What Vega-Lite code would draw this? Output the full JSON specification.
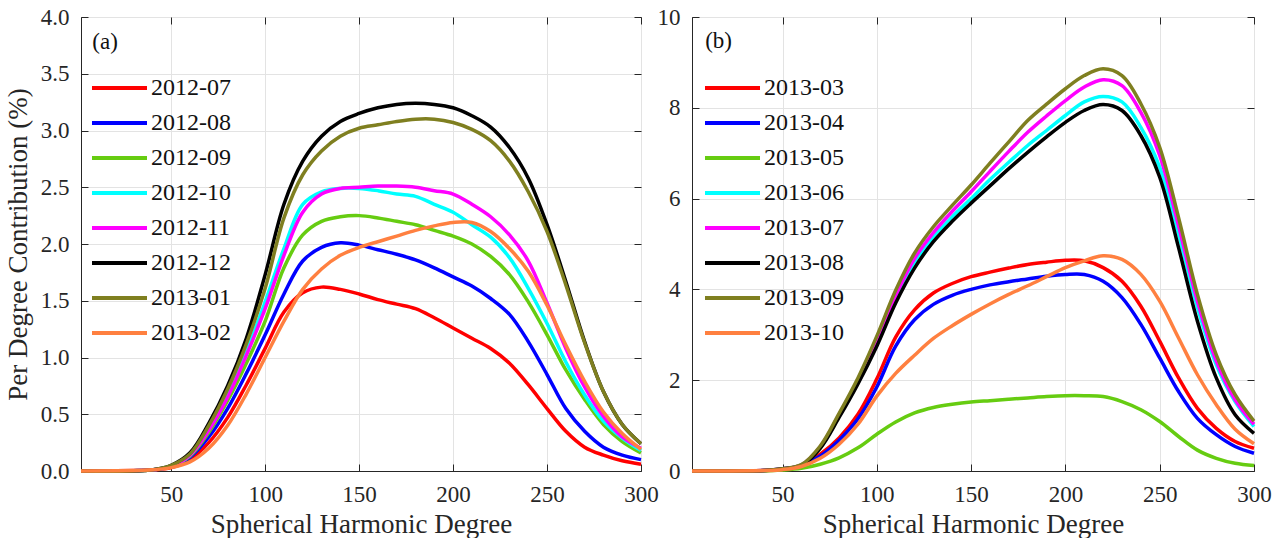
{
"$schema": "https://vega.github.io/schema/vega-lite/v6.json",
"background": "white",
"padding": {"left": 3, "top": 5, "right": 10, "bottom": 0},
"bounds": "flush",
"spacing": 51,
"config": {
  "font": "Liberation Serif",
  "view": {"stroke": "#262626", "strokeWidth": 1},
  "axis": {"labelFont": "Liberation Serif", "labelFontSize": 23, "labelColor": "#262626", "labelFlush": false, "titleFont": "Liberation Serif", "titleFontSize": 27, "titleFontWeight": "normal", "titleColor": "#262626", "titlePadding": 8, "domainColor": "#262626", "tickColor": "#262626", "gridColor": "#e3e3e3", "gridWidth": 1, "tickSize": -7, "labelPadding": 19},
  "axisBottom": {"titlePadding": 5},
  "legend": {"orient": "none", "title": null, "symbolType": "stroke", "symbolSize": 3025, "symbolStrokeWidth": 4, "labelFontSize": 24, "labelFont": "Liberation Serif", "labelColor": "#111111", "clipHeight": 24, "rowPadding": 11, "labelOffset": 2, "padding": 0, "legendY": 59}
},
"datasets": {
"a": [
{"d":2,"s":"2012-07","v":0},{"d":40,"s":"2012-07","v":0.01},{"d":50,"s":"2012-07","v":0.03},{"d":60,"s":"2012-07","v":0.1},{"d":70,"s":"2012-07","v":0.25},{"d":80,"s":"2012-07","v":0.47},{"d":90,"s":"2012-07","v":0.76},{"d":100,"s":"2012-07","v":1.08},{"d":110,"s":"2012-07","v":1.4},{"d":120,"s":"2012-07","v":1.57},{"d":130,"s":"2012-07","v":1.62},{"d":140,"s":"2012-07","v":1.6},{"d":150,"s":"2012-07","v":1.56},{"d":160,"s":"2012-07","v":1.51},{"d":170,"s":"2012-07","v":1.47},{"d":180,"s":"2012-07","v":1.43},{"d":190,"s":"2012-07","v":1.35},{"d":200,"s":"2012-07","v":1.26},{"d":210,"s":"2012-07","v":1.17},{"d":220,"s":"2012-07","v":1.08},{"d":230,"s":"2012-07","v":0.95},{"d":240,"s":"2012-07","v":0.76},{"d":250,"s":"2012-07","v":0.55},{"d":260,"s":"2012-07","v":0.35},{"d":270,"s":"2012-07","v":0.21},{"d":280,"s":"2012-07","v":0.14},{"d":290,"s":"2012-07","v":0.09},{"d":300,"s":"2012-07","v":0.06},
{"d":2,"s":"2012-08","v":0},{"d":40,"s":"2012-08","v":0.01},{"d":50,"s":"2012-08","v":0.04},{"d":60,"s":"2012-08","v":0.12},{"d":70,"s":"2012-08","v":0.3},{"d":80,"s":"2012-08","v":0.55},{"d":90,"s":"2012-08","v":0.86},{"d":100,"s":"2012-08","v":1.2},{"d":110,"s":"2012-08","v":1.56},{"d":120,"s":"2012-08","v":1.85},{"d":130,"s":"2012-08","v":1.97},{"d":140,"s":"2012-08","v":2.01},{"d":150,"s":"2012-08","v":1.99},{"d":160,"s":"2012-08","v":1.95},{"d":170,"s":"2012-08","v":1.91},{"d":180,"s":"2012-08","v":1.86},{"d":190,"s":"2012-08","v":1.79},{"d":200,"s":"2012-08","v":1.71},{"d":210,"s":"2012-08","v":1.63},{"d":220,"s":"2012-08","v":1.52},{"d":230,"s":"2012-08","v":1.38},{"d":240,"s":"2012-08","v":1.14},{"d":250,"s":"2012-08","v":0.85},{"d":260,"s":"2012-08","v":0.55},{"d":270,"s":"2012-08","v":0.35},{"d":280,"s":"2012-08","v":0.21},{"d":290,"s":"2012-08","v":0.14},{"d":300,"s":"2012-08","v":0.1},
{"d":2,"s":"2012-09","v":0},{"d":40,"s":"2012-09","v":0.01},{"d":50,"s":"2012-09","v":0.04},{"d":60,"s":"2012-09","v":0.13},{"d":70,"s":"2012-09","v":0.34},{"d":80,"s":"2012-09","v":0.62},{"d":90,"s":"2012-09","v":0.95},{"d":100,"s":"2012-09","v":1.32},{"d":110,"s":"2012-09","v":1.79},{"d":120,"s":"2012-09","v":2.08},{"d":130,"s":"2012-09","v":2.2},{"d":140,"s":"2012-09","v":2.24},{"d":150,"s":"2012-09","v":2.25},{"d":160,"s":"2012-09","v":2.23},{"d":170,"s":"2012-09","v":2.2},{"d":180,"s":"2012-09","v":2.17},{"d":190,"s":"2012-09","v":2.12},{"d":200,"s":"2012-09","v":2.07},{"d":210,"s":"2012-09","v":2.0},{"d":220,"s":"2012-09","v":1.89},{"d":230,"s":"2012-09","v":1.73},{"d":240,"s":"2012-09","v":1.49},{"d":250,"s":"2012-09","v":1.2},{"d":260,"s":"2012-09","v":0.89},{"d":270,"s":"2012-09","v":0.63},{"d":280,"s":"2012-09","v":0.41},{"d":290,"s":"2012-09","v":0.26},{"d":300,"s":"2012-09","v":0.16},
{"d":2,"s":"2012-10","v":0},{"d":40,"s":"2012-10","v":0.01},{"d":50,"s":"2012-10","v":0.04},{"d":60,"s":"2012-10","v":0.14},{"d":70,"s":"2012-10","v":0.37},{"d":80,"s":"2012-10","v":0.67},{"d":90,"s":"2012-10","v":1.05},{"d":100,"s":"2012-10","v":1.49},{"d":110,"s":"2012-10","v":1.96},{"d":120,"s":"2012-10","v":2.35},{"d":130,"s":"2012-10","v":2.46},{"d":140,"s":"2012-10","v":2.49},{"d":150,"s":"2012-10","v":2.49},{"d":160,"s":"2012-10","v":2.47},{"d":170,"s":"2012-10","v":2.44},{"d":180,"s":"2012-10","v":2.42},{"d":190,"s":"2012-10","v":2.35},{"d":200,"s":"2012-10","v":2.28},{"d":210,"s":"2012-10","v":2.17},{"d":220,"s":"2012-10","v":2.06},{"d":230,"s":"2012-10","v":1.88},{"d":240,"s":"2012-10","v":1.61},{"d":250,"s":"2012-10","v":1.3},{"d":260,"s":"2012-10","v":0.96},{"d":270,"s":"2012-10","v":0.67},{"d":280,"s":"2012-10","v":0.44},{"d":290,"s":"2012-10","v":0.29},{"d":300,"s":"2012-10","v":0.18},
{"d":2,"s":"2012-11","v":0},{"d":40,"s":"2012-11","v":0.01},{"d":50,"s":"2012-11","v":0.04},{"d":60,"s":"2012-11","v":0.14},{"d":70,"s":"2012-11","v":0.36},{"d":80,"s":"2012-11","v":0.65},{"d":90,"s":"2012-11","v":1.02},{"d":100,"s":"2012-11","v":1.43},{"d":110,"s":"2012-11","v":1.9},{"d":120,"s":"2012-11","v":2.28},{"d":130,"s":"2012-11","v":2.44},{"d":140,"s":"2012-11","v":2.49},{"d":150,"s":"2012-11","v":2.5},{"d":160,"s":"2012-11","v":2.51},{"d":170,"s":"2012-11","v":2.51},{"d":180,"s":"2012-11","v":2.5},{"d":190,"s":"2012-11","v":2.47},{"d":200,"s":"2012-11","v":2.44},{"d":210,"s":"2012-11","v":2.35},{"d":220,"s":"2012-11","v":2.24},{"d":230,"s":"2012-11","v":2.08},{"d":240,"s":"2012-11","v":1.85},{"d":250,"s":"2012-11","v":1.48},{"d":260,"s":"2012-11","v":1.08},{"d":270,"s":"2012-11","v":0.74},{"d":280,"s":"2012-11","v":0.48},{"d":290,"s":"2012-11","v":0.3},{"d":300,"s":"2012-11","v":0.2},
{"d":2,"s":"2012-12","v":0},{"d":40,"s":"2012-12","v":0.01},{"d":50,"s":"2012-12","v":0.05},{"d":60,"s":"2012-12","v":0.16},{"d":70,"s":"2012-12","v":0.42},{"d":80,"s":"2012-12","v":0.75},{"d":90,"s":"2012-12","v":1.17},{"d":100,"s":"2012-12","v":1.73},{"d":110,"s":"2012-12","v":2.35},{"d":120,"s":"2012-12","v":2.73},{"d":130,"s":"2012-12","v":2.95},{"d":140,"s":"2012-12","v":3.08},{"d":150,"s":"2012-12","v":3.15},{"d":160,"s":"2012-12","v":3.2},{"d":170,"s":"2012-12","v":3.23},{"d":180,"s":"2012-12","v":3.24},{"d":190,"s":"2012-12","v":3.23},{"d":200,"s":"2012-12","v":3.2},{"d":210,"s":"2012-12","v":3.13},{"d":220,"s":"2012-12","v":3.03},{"d":230,"s":"2012-12","v":2.85},{"d":240,"s":"2012-12","v":2.58},{"d":250,"s":"2012-12","v":2.17},{"d":260,"s":"2012-12","v":1.67},{"d":270,"s":"2012-12","v":1.14},{"d":280,"s":"2012-12","v":0.7},{"d":290,"s":"2012-12","v":0.41},{"d":300,"s":"2012-12","v":0.24},
{"d":2,"s":"2013-01","v":0},{"d":40,"s":"2013-01","v":0.01},{"d":50,"s":"2013-01","v":0.05},{"d":60,"s":"2013-01","v":0.15},{"d":70,"s":"2013-01","v":0.4},{"d":80,"s":"2013-01","v":0.72},{"d":90,"s":"2013-01","v":1.12},{"d":100,"s":"2013-01","v":1.61},{"d":110,"s":"2013-01","v":2.23},{"d":120,"s":"2013-01","v":2.61},{"d":130,"s":"2013-01","v":2.82},{"d":140,"s":"2013-01","v":2.95},{"d":150,"s":"2013-01","v":3.02},{"d":160,"s":"2013-01","v":3.05},{"d":170,"s":"2013-01","v":3.08},{"d":180,"s":"2013-01","v":3.1},{"d":190,"s":"2013-01","v":3.1},{"d":200,"s":"2013-01","v":3.07},{"d":210,"s":"2013-01","v":3.01},{"d":220,"s":"2013-01","v":2.91},{"d":230,"s":"2013-01","v":2.73},{"d":240,"s":"2013-01","v":2.46},{"d":250,"s":"2013-01","v":2.11},{"d":260,"s":"2013-01","v":1.64},{"d":270,"s":"2013-01","v":1.13},{"d":280,"s":"2013-01","v":0.7},{"d":290,"s":"2013-01","v":0.41},{"d":300,"s":"2013-01","v":0.24},
{"d":2,"s":"2013-02","v":0},{"d":40,"s":"2013-02","v":0.01},{"d":50,"s":"2013-02","v":0.03},{"d":60,"s":"2013-02","v":0.08},{"d":70,"s":"2013-02","v":0.2},{"d":80,"s":"2013-02","v":0.4},{"d":90,"s":"2013-02","v":0.68},{"d":100,"s":"2013-02","v":1.0},{"d":110,"s":"2013-02","v":1.32},{"d":120,"s":"2013-02","v":1.6},{"d":130,"s":"2013-02","v":1.78},{"d":140,"s":"2013-02","v":1.9},{"d":150,"s":"2013-02","v":1.97},{"d":160,"s":"2013-02","v":2.02},{"d":170,"s":"2013-02","v":2.07},{"d":180,"s":"2013-02","v":2.12},{"d":190,"s":"2013-02","v":2.16},{"d":200,"s":"2013-02","v":2.19},{"d":210,"s":"2013-02","v":2.19},{"d":220,"s":"2013-02","v":2.11},{"d":230,"s":"2013-02","v":1.96},{"d":240,"s":"2013-02","v":1.76},{"d":250,"s":"2013-02","v":1.46},{"d":260,"s":"2013-02","v":1.11},{"d":270,"s":"2013-02","v":0.79},{"d":280,"s":"2013-02","v":0.52},{"d":290,"s":"2013-02","v":0.33},{"d":300,"s":"2013-02","v":0.19}
],
"b": [
{"d":2,"s":"2013-03","v":0},{"d":40,"s":"2013-03","v":0.01},{"d":50,"s":"2013-03","v":0.04},{"d":60,"s":"2013-03","v":0.13},{"d":70,"s":"2013-03","v":0.37},{"d":80,"s":"2013-03","v":0.73},{"d":90,"s":"2013-03","v":1.25},{"d":100,"s":"2013-03","v":2.03},{"d":110,"s":"2013-03","v":2.95},{"d":120,"s":"2013-03","v":3.55},{"d":130,"s":"2013-03","v":3.92},{"d":140,"s":"2013-03","v":4.13},{"d":150,"s":"2013-03","v":4.28},{"d":160,"s":"2013-03","v":4.38},{"d":170,"s":"2013-03","v":4.47},{"d":180,"s":"2013-03","v":4.55},{"d":190,"s":"2013-03","v":4.6},{"d":200,"s":"2013-03","v":4.64},{"d":210,"s":"2013-03","v":4.63},{"d":220,"s":"2013-03","v":4.48},{"d":230,"s":"2013-03","v":4.18},{"d":240,"s":"2013-03","v":3.63},{"d":250,"s":"2013-03","v":2.86},{"d":260,"s":"2013-03","v":2.05},{"d":270,"s":"2013-03","v":1.38},{"d":280,"s":"2013-03","v":0.94},{"d":290,"s":"2013-03","v":0.65},{"d":300,"s":"2013-03","v":0.5},
{"d":2,"s":"2013-04","v":0},{"d":40,"s":"2013-04","v":0.01},{"d":50,"s":"2013-04","v":0.04},{"d":60,"s":"2013-04","v":0.12},{"d":70,"s":"2013-04","v":0.33},{"d":80,"s":"2013-04","v":0.68},{"d":90,"s":"2013-04","v":1.15},{"d":100,"s":"2013-04","v":1.85},{"d":110,"s":"2013-04","v":2.75},{"d":120,"s":"2013-04","v":3.33},{"d":130,"s":"2013-04","v":3.67},{"d":140,"s":"2013-04","v":3.87},{"d":150,"s":"2013-04","v":4.0},{"d":160,"s":"2013-04","v":4.1},{"d":170,"s":"2013-04","v":4.17},{"d":180,"s":"2013-04","v":4.23},{"d":190,"s":"2013-04","v":4.29},{"d":200,"s":"2013-04","v":4.33},{"d":210,"s":"2013-04","v":4.33},{"d":220,"s":"2013-04","v":4.18},{"d":230,"s":"2013-04","v":3.82},{"d":240,"s":"2013-04","v":3.23},{"d":250,"s":"2013-04","v":2.49},{"d":260,"s":"2013-04","v":1.75},{"d":270,"s":"2013-04","v":1.16},{"d":280,"s":"2013-04","v":0.8},{"d":290,"s":"2013-04","v":0.54},{"d":300,"s":"2013-04","v":0.39},
{"d":2,"s":"2013-05","v":0},{"d":40,"s":"2013-05","v":0},{"d":50,"s":"2013-05","v":0.02},{"d":60,"s":"2013-05","v":0.06},{"d":70,"s":"2013-05","v":0.15},{"d":80,"s":"2013-05","v":0.29},{"d":90,"s":"2013-05","v":0.51},{"d":100,"s":"2013-05","v":0.81},{"d":110,"s":"2013-05","v":1.08},{"d":120,"s":"2013-05","v":1.28},{"d":130,"s":"2013-05","v":1.4},{"d":140,"s":"2013-05","v":1.47},{"d":150,"s":"2013-05","v":1.52},{"d":160,"s":"2013-05","v":1.55},{"d":170,"s":"2013-05","v":1.58},{"d":180,"s":"2013-05","v":1.61},{"d":190,"s":"2013-05","v":1.64},{"d":200,"s":"2013-05","v":1.66},{"d":210,"s":"2013-05","v":1.66},{"d":220,"s":"2013-05","v":1.64},{"d":230,"s":"2013-05","v":1.53},{"d":240,"s":"2013-05","v":1.35},{"d":250,"s":"2013-05","v":1.09},{"d":260,"s":"2013-05","v":0.76},{"d":270,"s":"2013-05","v":0.46},{"d":280,"s":"2013-05","v":0.28},{"d":290,"s":"2013-05","v":0.17},{"d":300,"s":"2013-05","v":0.12},
{"d":2,"s":"2013-06","v":0},{"d":40,"s":"2013-06","v":0.01},{"d":50,"s":"2013-06","v":0.05},{"d":60,"s":"2013-06","v":0.13},{"d":70,"s":"2013-06","v":0.52},{"d":80,"s":"2013-06","v":1.22},{"d":90,"s":"2013-06","v":1.98},{"d":100,"s":"2013-06","v":2.82},{"d":110,"s":"2013-06","v":3.8},{"d":120,"s":"2013-06","v":4.58},{"d":130,"s":"2013-06","v":5.15},{"d":140,"s":"2013-06","v":5.6},{"d":150,"s":"2013-06","v":6.0},{"d":160,"s":"2013-06","v":6.42},{"d":170,"s":"2013-06","v":6.8},{"d":180,"s":"2013-06","v":7.17},{"d":190,"s":"2013-06","v":7.5},{"d":200,"s":"2013-06","v":7.83},{"d":210,"s":"2013-06","v":8.13},{"d":220,"s":"2013-06","v":8.25},{"d":230,"s":"2013-06","v":8.13},{"d":240,"s":"2013-06","v":7.57},{"d":250,"s":"2013-06","v":6.69},{"d":260,"s":"2013-06","v":5.22},{"d":270,"s":"2013-06","v":3.6},{"d":280,"s":"2013-06","v":2.34},{"d":290,"s":"2013-06","v":1.53},{"d":300,"s":"2013-06","v":0.98},
{"d":2,"s":"2013-07","v":0},{"d":40,"s":"2013-07","v":0.01},{"d":50,"s":"2013-07","v":0.05},{"d":60,"s":"2013-07","v":0.13},{"d":70,"s":"2013-07","v":0.53},{"d":80,"s":"2013-07","v":1.24},{"d":90,"s":"2013-07","v":2.0},{"d":100,"s":"2013-07","v":2.85},{"d":110,"s":"2013-07","v":3.86},{"d":120,"s":"2013-07","v":4.68},{"d":130,"s":"2013-07","v":5.25},{"d":140,"s":"2013-07","v":5.72},{"d":150,"s":"2013-07","v":6.15},{"d":160,"s":"2013-07","v":6.6},{"d":170,"s":"2013-07","v":7.04},{"d":180,"s":"2013-07","v":7.46},{"d":190,"s":"2013-07","v":7.82},{"d":200,"s":"2013-07","v":8.16},{"d":210,"s":"2013-07","v":8.46},{"d":220,"s":"2013-07","v":8.62},{"d":230,"s":"2013-07","v":8.49},{"d":240,"s":"2013-07","v":7.9},{"d":250,"s":"2013-07","v":6.95},{"d":260,"s":"2013-07","v":5.4},{"d":270,"s":"2013-07","v":3.74},{"d":280,"s":"2013-07","v":2.42},{"d":290,"s":"2013-07","v":1.57},{"d":300,"s":"2013-07","v":1.03},
{"d":2,"s":"2013-08","v":0},{"d":40,"s":"2013-08","v":0.01},{"d":50,"s":"2013-08","v":0.05},{"d":60,"s":"2013-08","v":0.12},{"d":70,"s":"2013-08","v":0.5},{"d":80,"s":"2013-08","v":1.18},{"d":90,"s":"2013-08","v":1.92},{"d":100,"s":"2013-08","v":2.75},{"d":110,"s":"2013-08","v":3.7},{"d":120,"s":"2013-08","v":4.47},{"d":130,"s":"2013-08","v":5.05},{"d":140,"s":"2013-08","v":5.5},{"d":150,"s":"2013-08","v":5.9},{"d":160,"s":"2013-08","v":6.28},{"d":170,"s":"2013-08","v":6.66},{"d":180,"s":"2013-08","v":7.02},{"d":190,"s":"2013-08","v":7.36},{"d":200,"s":"2013-08","v":7.68},{"d":210,"s":"2013-08","v":7.94},{"d":220,"s":"2013-08","v":8.07},{"d":230,"s":"2013-08","v":7.94},{"d":240,"s":"2013-08","v":7.39},{"d":250,"s":"2013-08","v":6.47},{"d":260,"s":"2013-08","v":4.92},{"d":270,"s":"2013-08","v":3.3},{"d":280,"s":"2013-08","v":2.05},{"d":290,"s":"2013-08","v":1.24},{"d":300,"s":"2013-08","v":0.83},
{"d":2,"s":"2013-09","v":0},{"d":40,"s":"2013-09","v":0.01},{"d":50,"s":"2013-09","v":0.05},{"d":60,"s":"2013-09","v":0.14},{"d":70,"s":"2013-09","v":0.55},{"d":80,"s":"2013-09","v":1.27},{"d":90,"s":"2013-09","v":2.05},{"d":100,"s":"2013-09","v":2.97},{"d":110,"s":"2013-09","v":3.98},{"d":120,"s":"2013-09","v":4.8},{"d":130,"s":"2013-09","v":5.38},{"d":140,"s":"2013-09","v":5.85},{"d":150,"s":"2013-09","v":6.3},{"d":160,"s":"2013-09","v":6.78},{"d":170,"s":"2013-09","v":7.25},{"d":180,"s":"2013-09","v":7.72},{"d":190,"s":"2013-09","v":8.08},{"d":200,"s":"2013-09","v":8.42},{"d":210,"s":"2013-09","v":8.71},{"d":220,"s":"2013-09","v":8.86},{"d":230,"s":"2013-09","v":8.71},{"d":240,"s":"2013-09","v":8.09},{"d":250,"s":"2013-09","v":7.13},{"d":260,"s":"2013-09","v":5.58},{"d":270,"s":"2013-09","v":3.89},{"d":280,"s":"2013-09","v":2.56},{"d":290,"s":"2013-09","v":1.68},{"d":300,"s":"2013-09","v":1.1},
{"d":2,"s":"2013-10","v":0},{"d":40,"s":"2013-10","v":0.01},{"d":50,"s":"2013-10","v":0.03},{"d":60,"s":"2013-10","v":0.1},{"d":70,"s":"2013-10","v":0.28},{"d":80,"s":"2013-10","v":0.59},{"d":90,"s":"2013-10","v":1.03},{"d":100,"s":"2013-10","v":1.65},{"d":110,"s":"2013-10","v":2.15},{"d":120,"s":"2013-10","v":2.55},{"d":130,"s":"2013-10","v":2.92},{"d":140,"s":"2013-10","v":3.2},{"d":150,"s":"2013-10","v":3.45},{"d":160,"s":"2013-10","v":3.68},{"d":170,"s":"2013-10","v":3.89},{"d":180,"s":"2013-10","v":4.08},{"d":190,"s":"2013-10","v":4.28},{"d":200,"s":"2013-10","v":4.48},{"d":210,"s":"2013-10","v":4.63},{"d":220,"s":"2013-10","v":4.74},{"d":230,"s":"2013-10","v":4.66},{"d":240,"s":"2013-10","v":4.33},{"d":250,"s":"2013-10","v":3.74},{"d":260,"s":"2013-10","v":2.93},{"d":270,"s":"2013-10","v":2.12},{"d":280,"s":"2013-10","v":1.46},{"d":290,"s":"2013-10","v":0.92},{"d":300,"s":"2013-10","v":0.6}
]
},
"hconcat": [
{
  "width": 560, "height": 454,
  "layer": [
    {
      "data": {"name": "a"},
      "mark": {"type": "line", "strokeWidth": 3.5, "interpolate": "catmull-rom"},
      "encoding": {
        "x": {"field": "d", "type": "quantitative", "scale": {"domain": [2, 300], "nice": false}, "axis": {"values": [50, 100, 150, 200, 250, 300], "title": "Spherical Harmonic Degree", "grid": true}},
        "y": {"field": "v", "type": "quantitative", "scale": {"domain": [0, 4], "nice": false}, "axis": {"values": [0, 0.5, 1, 1.5, 2, 2.5, 3, 3.5, 4], "format": ".1f", "title": "Per Degree Contribution (%)", "grid": true}},
        "color": {"field": "s", "type": "nominal", "scale": {"domain": ["2012-07", "2012-08", "2012-09", "2012-10", "2012-11", "2012-12", "2013-01", "2013-02"], "range": ["#ff0000", "#0000ff", "#66cc11", "#00ffff", "#ff00ff", "#000000", "#7f7f20", "#ff8040"]}, "legend": {"legendX": 9}}
      }
    },
    {
      "data": {"values": [{}]},
      "mark": {"type": "text", "align": "left", "baseline": "middle", "fontSize": 23, "font": "Liberation Serif", "color": "#111111"},
      "encoding": {
        "x": {"datum": 8, "type": "quantitative", "axis": {"orient": "top", "labels": false, "title": null, "grid": false, "domain": false, "labelPadding": 0, "values": [50, 100, 150, 200, 250, 300]}},
        "y": {"datum": 3.78, "type": "quantitative", "axis": {"orient": "right", "labels": false, "title": null, "grid": false, "domain": false, "labelPadding": 0, "values": [0, 0.5, 1, 1.5, 2, 2.5, 3, 3.5, 4]}},
        "text": {"value": "(a)"}
      }
    }
  ],
  "resolve": {"axis": {"x": "independent", "y": "independent"}}
},
{
  "width": 562, "height": 454,
  "layer": [
    {
      "data": {"name": "b"},
      "mark": {"type": "line", "strokeWidth": 3.5, "interpolate": "catmull-rom"},
      "encoding": {
        "x": {"field": "d", "type": "quantitative", "scale": {"domain": [2, 300], "nice": false}, "axis": {"values": [50, 100, 150, 200, 250, 300], "title": "Spherical Harmonic Degree", "grid": true}},
        "y": {"field": "v", "type": "quantitative", "scale": {"domain": [0, 10], "nice": false}, "axis": {"values": [0, 2, 4, 6, 8, 10], "format": "d", "title": null, "grid": true}},
        "color": {"field": "s", "type": "nominal", "scale": {"domain": ["2013-03", "2013-04", "2013-05", "2013-06", "2013-07", "2013-08", "2013-09", "2013-10"], "range": ["#ff0000", "#0000ff", "#66cc11", "#00ffff", "#ff00ff", "#000000", "#7f7f20", "#ff8040"]}, "legend": {"legendX": 11}}
      }
    },
    {
      "data": {"values": [{}]},
      "mark": {"type": "text", "align": "left", "baseline": "middle", "fontSize": 23, "font": "Liberation Serif", "color": "#111111"},
      "encoding": {
        "x": {"datum": 9, "type": "quantitative", "axis": {"orient": "top", "labels": false, "title": null, "grid": false, "domain": false, "labelPadding": 0, "values": [50, 100, 150, 200, 250, 300]}},
        "y": {"datum": 9.47, "type": "quantitative", "axis": {"orient": "right", "labels": false, "title": null, "grid": false, "domain": false, "labelPadding": 0, "values": [0, 2, 4, 6, 8, 10]}},
        "text": {"value": "(b)"}
      }
    }
  ],
  "resolve": {"axis": {"x": "independent", "y": "independent"}}
}
],
"resolve": {"scale": {"color": "independent"}}
}
